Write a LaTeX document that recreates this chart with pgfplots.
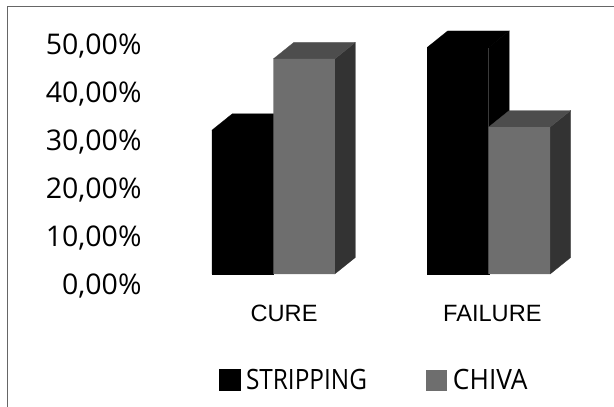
\documentclass[border=0pt]{standalone}
\usepackage{fontspec}
\setmainfont{Liberation Sans}
\newfontfamily\tickfont{Open Sans}
\newfontfamily\legfont[FakeStretch=0.87]{Open Sans}
\newfontfamily\chivafont[FakeStretch=0.94]{Open Sans}
\usepackage{pgfplots}
\pgfplotsset{compat=1.18}
\definecolor{front}{HTML}{6E6E6E}
\definecolor{topface}{HTML}{4D4D4D}
\definecolor{sideface}{HTML}{333333}
\begin{document}
\begin{tikzpicture}
\path[use as bounding box] (-146pt,-110pt) rectangle (468pt,297pt);
\begin{axis}[
	scale only axis,
	width=468pt,
	height=297pt,
	xmin=-0.591, xmax=1.5817,
	ymin=-4.81, ymax=57.32,
	clip=false,
	axis line style={draw=none},
	tick style={draw=none},
	ytick={0,10,20,30,40,50},
	yticklabels={{0,00\%},{10,00\%},{20,00\%},{30,00\%},{40,00\%},{50,00\%}},
	yticklabel style={font=\tickfont\fontsize{28.5}{30}\selectfont, yshift=-11.5pt, xshift=-1pt},
	xtick={0.05,1.017},
	xticklabels={CURE,FAILURE},
	xticklabel style={font=\fontsize{23.6}{25}\selectfont, yshift=-4.5pt},
	legend columns=2,
	legend style={
		draw=none, fill=none,
		at={(axis cs:-0.268,-22.2)}, anchor=west,
		nodes={inner sep=0pt},
		font=\legfont\fontsize{28}{30}\selectfont,
		/tikz/every odd column/.append style={column sep=6pt},
		/tikz/every even column/.append style={column sep=59pt},
	},
]
% STRIPPING side and top faces
\addplot[fill=black,draw=black,line width=0.3pt,forget plot] coordinates {(-0.2855,30.06) (-0.1903,33.51) (0.0952,33.51) (0,30.06)};
\addplot[fill=black,draw=black,line width=0.3pt,forget plot] coordinates {(0.7145,47.4) (0.8097,50.85) (1.0952,50.85) (1,47.4)};
\addplot[fill=black,draw=black,line width=0.3pt,forget plot] coordinates {(1,0) (1.0952,3.45) (1.0952,50.85) (1,47.4)};
\addplot[ybar,bar width=61.5pt,bar shift=-30.75pt,fill=black,draw=black,line width=0.3pt,
	legend image code/.code={\fill[black] (0,-10.5pt) rectangle (21pt,10.5pt);}]
	coordinates {(0,30.06) (1,47.4)};
\addlegendentry{STRIPPING}
% CHIVA side and top faces
\addplot[fill=sideface,draw=sideface,line width=0.2pt,forget plot] coordinates {(0.2855,0) (0.3807,3.45) (0.3807,48.45) (0.2855,45)};
\addplot[fill=topface,draw=topface,line width=0.2pt,forget plot] coordinates {(0,45) (0.0952,48.45) (0.3807,48.45) (0.2855,45)};
\addplot[fill=sideface,draw=sideface,line width=0.2pt,forget plot] coordinates {(1.2855,0) (1.3807,3.45) (1.3807,34.2) (1.2855,30.75)};
\addplot[fill=topface,draw=topface,line width=0.2pt,forget plot] coordinates {(1,30.75) (1.0952,34.2) (1.3807,34.2) (1.2855,30.75)};
\addplot[ybar,bar width=61.5pt,bar shift=30.75pt,fill=front,draw=none,
	legend image code/.code={\fill[front] (0,-10.5pt) rectangle (21pt,10.5pt);}]
	coordinates {(0,45) (1,30.75)};
\addlegendentry{\chivafont CHIVA}
\end{axis}
\draw[black!60,line width=1pt] (-138.5pt,-110pt) -- (-138.5pt,290.5pt) -- (468pt,290.5pt);
\end{tikzpicture}
\end{document}
